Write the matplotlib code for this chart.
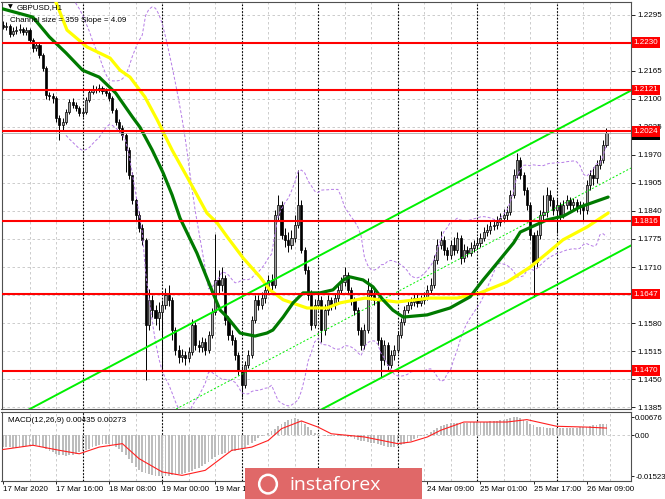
import numpy as np
import pandas as pd
import matplotlib
matplotlib.use("Agg")
import matplotlib.pyplot as plt
from matplotlib.patches import Rectangle, Ellipse
from matplotlib.transforms import blended_transform_factory

plt.rcParams["font.family"] = ["Liberation Sans", "DejaVu Sans"]
plt.rcParams["axes.unicode_minus"] = False

# GBPUSD H1, one value per bar: 17 Mar 2020 00:00 .. 26 Mar 2020 15:00
first_open = 1.2271
closes = [
    1.2266, 1.2268, 1.2250, 1.2257, 1.2259, 1.2261, 1.2254, 1.2259, 1.2236, 1.2217,
    1.2224, 1.2201, 1.2171, 1.2108, 1.2106, 1.2102, 1.2055, 1.2039, 1.2046, 1.2069,
    1.2092, 1.2085, 1.2078, 1.2067, 1.2069, 1.2097, 1.2115, 1.2122, 1.2120, 1.2125,
    1.2118, 1.2113, 1.2102, 1.2074, 1.2046, 1.2032, 1.2016, 1.1981, 1.1923, 1.1865,
    1.1830, 1.1800, 1.1773, 1.1576, 1.1634, 1.1610, 1.1592, 1.1606, 1.1622, 1.1645,
    1.1634, 1.1564, 1.1518, 1.1501, 1.1506, 1.1499, 1.1513, 1.1576, 1.1529, 1.1525,
    1.1536, 1.1518, 1.1552, 1.1606, 1.1680, 1.1668, 1.1684, 1.1587, 1.1552, 1.1541,
    1.1506, 1.1471, 1.1437, 1.1483, 1.1506, 1.1587, 1.1634, 1.1622, 1.1638, 1.1657,
    1.1680, 1.1668, 1.1830, 1.1854, 1.1784, 1.1773, 1.1761, 1.1777, 1.1807, 1.1854,
    1.1749, 1.1703, 1.1645, 1.1576, 1.1622, 1.1634, 1.1564, 1.1610, 1.1634, 1.1622,
    1.1638, 1.1657, 1.1675, 1.1691, 1.1657, 1.1634, 1.1610, 1.1564, 1.1529, 1.1564,
    1.1657, 1.1645, 1.1634, 1.1541, 1.1495, 1.1529, 1.1483, 1.1506, 1.1518, 1.1552,
    1.1583, 1.1610, 1.1622, 1.1629, 1.1638, 1.1627, 1.1634, 1.1641, 1.1657, 1.1668,
    1.1726, 1.1761, 1.1773, 1.1749, 1.1738, 1.1761, 1.1749, 1.1777, 1.1731, 1.1749,
    1.1742, 1.1754, 1.1761, 1.1766, 1.1777, 1.1791, 1.1796, 1.1805, 1.1807, 1.1814,
    1.1823, 1.1830, 1.1837, 1.1877, 1.1923, 1.1958, 1.1923, 1.1888, 1.1854, 1.1784,
    1.1722, 1.1784, 1.1830, 1.1837, 1.1877, 1.1865, 1.1842, 1.1854, 1.1830, 1.1854,
    1.1865, 1.1854, 1.1861, 1.1849, 1.1854, 1.1842, 1.1900, 1.1923, 1.1916, 1.1946,
    1.1958, 1.1993, 1.2020,
]
highs = [
    1.2280, 1.2277, 1.2272, 1.2266, 1.2268, 1.2273, 1.2266, 1.2266, 1.2263, 1.2240,
    1.2232, 1.2228, 1.2206, 1.2175, 1.2116, 1.2113, 1.2106, 1.2062, 1.2055, 1.2076,
    1.2099, 1.2101, 1.2092, 1.2083, 1.2078, 1.2104, 1.2122, 1.2132, 1.2129, 1.2134,
    1.2130, 1.2124, 1.2118, 1.2106, 1.2078, 1.2053, 1.2039, 1.2021, 1.1988, 1.1930,
    1.1872, 1.1840, 1.1810, 1.1777, 1.1659, 1.1645, 1.1622, 1.1629, 1.1634, 1.1661,
    1.1668, 1.1640, 1.1571, 1.1529, 1.1520, 1.1515, 1.1525, 1.1590, 1.1583, 1.1541,
    1.1548, 1.1545, 1.1562, 1.1615, 1.1787, 1.1703, 1.1710, 1.1691, 1.1597, 1.1564,
    1.1548, 1.1513, 1.1480, 1.1492, 1.1518, 1.1597, 1.1645, 1.1645, 1.1652, 1.1668,
    1.1691, 1.1694, 1.1842, 1.1877, 1.1863, 1.1800, 1.1791, 1.1796, 1.1830, 1.1935,
    1.1865, 1.1756, 1.1712, 1.1657, 1.1636, 1.1650, 1.1643, 1.1624, 1.1645, 1.1641,
    1.1650, 1.1668, 1.1687, 1.1710, 1.1698, 1.1664, 1.1641, 1.1617, 1.1571, 1.1578,
    1.1684, 1.1668, 1.1657, 1.1641, 1.1548, 1.1541, 1.1536, 1.1518, 1.1529, 1.1562,
    1.1592, 1.1620, 1.1634, 1.1641, 1.1650, 1.1648, 1.1645, 1.1652, 1.1668, 1.1684,
    1.1738, 1.1775, 1.1793, 1.1782, 1.1756, 1.1773, 1.1780, 1.1791, 1.1784, 1.1763,
    1.1759, 1.1768, 1.1773, 1.1780, 1.1789, 1.1803, 1.1810, 1.1817, 1.1821, 1.1828,
    1.1835, 1.1844, 1.1851, 1.1888, 1.1937, 1.1974, 1.1965, 1.1930, 1.1895, 1.1861,
    1.1791, 1.1796, 1.1842, 1.1877, 1.1895, 1.1888, 1.1872, 1.1868, 1.1861, 1.1865,
    1.1877, 1.1872, 1.1870, 1.1868, 1.1863, 1.1861, 1.1912, 1.1935, 1.1942, 1.1958,
    1.1970, 1.2004, 1.2032,
]
lows = [
    1.2261, 1.2259, 1.2243, 1.2245, 1.2250, 1.2252, 1.2247, 1.2248, 1.2229, 1.2208,
    1.2210, 1.2194, 1.2164, 1.2099, 1.2097, 1.2090, 1.2046, 1.2004, 1.2027, 1.2041,
    1.2064, 1.2078, 1.2071, 1.2060, 1.2058, 1.2064, 1.2092, 1.2111, 1.2113, 1.2115,
    1.2111, 1.2106, 1.2095, 1.2067, 1.2039, 1.2023, 1.2004, 1.1930, 1.1914, 1.1855,
    1.1819, 1.1791, 1.1761, 1.1448, 1.1564, 1.1594, 1.1576, 1.1564, 1.1471, 1.1613,
    1.1620, 1.1541, 1.1506, 1.1487, 1.1490, 1.1483, 1.1490, 1.1506, 1.1518, 1.1513,
    1.1513, 1.1506, 1.1511, 1.1545, 1.1599, 1.1650, 1.1655, 1.1576, 1.1541, 1.1529,
    1.1495, 1.1460, 1.1409, 1.1430, 1.1476, 1.1499, 1.1580, 1.1610, 1.1613, 1.1627,
    1.1648, 1.1657, 1.1661, 1.1819, 1.1775, 1.1757, 1.1745, 1.1752, 1.1768, 1.1800,
    1.1742, 1.1694, 1.1634, 1.1564, 1.1569, 1.1610, 1.1536, 1.1552, 1.1599, 1.1610,
    1.1613, 1.1629, 1.1648, 1.1666, 1.1648, 1.1622, 1.1599, 1.1552, 1.1518, 1.1520,
    1.1557, 1.1634, 1.1622, 1.1529, 1.1455, 1.1483, 1.1471, 1.1476, 1.1495, 1.1511,
    1.1545, 1.1576, 1.1603, 1.1613, 1.1620, 1.1617, 1.1620, 1.1624, 1.1634, 1.1648,
    1.1661, 1.1717, 1.1752, 1.1738, 1.1726, 1.1729, 1.1738, 1.1742, 1.1717, 1.1722,
    1.1733, 1.1735, 1.1745, 1.1752, 1.1757, 1.1770, 1.1782, 1.1787, 1.1796, 1.1798,
    1.1805, 1.1814, 1.1819, 1.1830, 1.1870, 1.1916, 1.1914, 1.1877, 1.1842, 1.1773,
    1.1640, 1.1710, 1.1775, 1.1819, 1.1826, 1.1851, 1.1830, 1.1788, 1.1819, 1.1823,
    1.1844, 1.1842, 1.1842, 1.1837, 1.1833, 1.1819, 1.1833, 1.1888, 1.1900, 1.1905,
    1.1937, 1.1951, 1.1988,
]

# moving averages (bar position, price)
green_bars = [-1, 9, 14, 19, 24, 29, 34, 39, 41.3, 45, 48.3, 51, 53.4, 58.5, 63.3, 65.5,
              67.6, 71.5, 76, 79.6, 81.4, 84.5, 87.5, 90.5, 95.6, 99.5, 102.6, 104.7, 108.6,
              111.6, 114.6, 117.6, 120.7, 127.9, 134.8, 140.9, 144.8, 149, 154, 156, 164,
              169, 174, 182.5]
green_ma = [1.2310, 1.2289, 1.2243, 1.2206, 1.2166, 1.2150, 1.2113, 1.2058, 1.2034, 1.1981,
            1.1928, 1.1877, 1.1823, 1.1742, 1.1650, 1.1610, 1.1594, 1.1557, 1.1550, 1.1557,
            1.1564, 1.1594, 1.1627, 1.1650, 1.1650, 1.1657, 1.1680, 1.1687, 1.1680, 1.1664,
            1.1634, 1.1610, 1.1594, 1.1599, 1.1615, 1.1641, 1.1680, 1.1719, 1.1766, 1.1791,
            1.1819, 1.1828, 1.1849, 1.1872]
yellow_bars = [14.2, 15.7, 19.3, 25.3, 32.3, 35.3, 38.3, 42.8, 46.5, 51, 55.5, 61.5, 64.6,
               67.6, 72.4, 77.5, 80.5, 84.5, 91.7, 97.7, 101.7, 109.2, 118.9, 128.8, 137,
               143.9, 152, 159, 164.1, 168.9, 176.2, 182.5]
yellow_ma = [1.2375, 1.2329, 1.2259, 1.2220, 1.2194, 1.2166, 1.2150, 1.2104, 1.2051, 1.1981,
             1.1919, 1.1835, 1.1812, 1.1780, 1.1731, 1.1687, 1.1657, 1.1634, 1.1615, 1.1615,
             1.1627, 1.1638, 1.1629, 1.1638, 1.1638, 1.1650, 1.1675, 1.1710, 1.1742, 1.1773,
             1.1803, 1.1835]

# support / resistance levels and equidistant channel
levels = [1.2230, 1.2121, 1.2024, 1.1816, 1.1647, 1.1470]
channel_bar = 29
channel_price = 1.1466
channel_slope = 0.000407
channel_size = 0.0359

# MACD(12,26,9): main per bar (x 1e-4) and signal line
macd_main = [
    -42, -43, -45, -46, -46, -45, -43, -41, -40,
    -39, -38, -40, -44,
    -50, -57, -63, -68, -72, -75, -76, -75,
    -72, -68, -64, -60, -55, -50,
    -45, -40, -36, -33, -31, -33, -37,
    -43, -52, -62, -75,
    -90, -105, -118, -128, -136, -142, -146, -149, -151, -152, -152, -152, -151,
    -150, -148, -146, -143, -140, -136, -132, -127, -121, -114, -106, -98, -90,
    -82, -75, -70, -66, -63, -60, -58,
    -56, -52, -46, -38, -29, -20, -11,
    -4, 3, 9, 15, 25, 34, 42,
    50, 56, 62, 64, 60, 53,
    43, 32, 20, 10, 4, 0,
    -2, -3, -3, -2, -1, -2, -4, -6, -8,
    -12, -16, -20, -23, -25, -27, -29,
    -32, -36, -40, -43, -45, -43, -40, -36,
    -31, -26, -20, -14, -9, -4, 0,
    5, 12, 20, 28, 35, 40,
    43, 45, 46, 47, 47, 48, 48, 49, 49,
    50, 50, 51, 51, 52, 53, 54, 56, 58,
    61, 64, 67, 67, 64, 58,
    52, 44, 37, 33, 31, 30, 29, 29,
    29, 28, 28, 28, 28, 28, 29, 29, 30, 31,
    33, 35, 37, 39, 41, 42, 43.5,
]
signal_bars = [0, 9, 17, 23, 29, 36, 41, 48, 54, 61, 69, 75, 80, 84, 90, 95, 99,
               109, 119, 123, 128, 132, 139, 152, 158, 167, 176, 182]
signal_vals = [-0.0053, -0.0037, -0.0056, -0.0069, -0.0044, -0.0031, -0.0087, -0.0137,
               -0.0150, -0.0131, -0.0056, -0.0044, -0.0019, 0.0025, 0.0054, 0.0031, 0.0006,
               -0.0006, -0.0031, -0.0025, -0.0006, 0.0019, 0.0050, 0.0050, 0.0059, 0.0034,
               0.0031, 0.00273]

# axis labels (1.2230 and 1.1645 sit under the level boxes)
price_ticks = [1.1385, 1.1450, 1.1515, 1.1580, 1.1645, 1.1710, 1.1775, 1.1840, 1.1905,
               1.1970, 1.2035, 1.2100, 1.2165, 1.2230, 1.2295]
hidden_ticks = [1.1645, 1.2230]
time_bars = [0, 16, 32, 48, 64, 128, 144, 160, 176]
time_labels = ["17 Mar 2020", "17 Mar 16:00", "18 Mar 08:00", "19 Mar 00:00", "19 Mar 16:00",
               "24 Mar 09:00", "25 Mar 01:00", "25 Mar 17:00", "26 Mar 09:00"]
day_bars = [24, 48, 72, 95, 119, 143, 167]

n = len(closes)
bars = np.arange(n)
opens = [first_open] + closes[:-1]
xlim = (-0.45, 189.4)

fig = plt.figure(figsize=(6.65, 4.99), dpi=100)
ax = fig.add_axes([1.5 / 665, 1 - 409 / 499, 629.5 / 665, 407 / 499])
ax2 = fig.add_axes([1.5 / 665, 1 - 481 / 499, 629.5 / 665, 69 / 499])

# grid: gray dashed every 8 bars, black dotted day separators
grid_bars = list(range(8, 89, 8)) + list(range(103, 190, 8))
for a in (ax, ax2):
    for g in grid_bars:
        a.axvline(g, color="#c4c4c4", lw=0.6, ls=(0, (3, 3)), zorder=0)
    for d in day_bars:
        a.axvline(d, color="black", lw=0.8, ls=(0, (1.5, 1.5)), zorder=1)
for v in price_ticks:
    ax.axhline(v, color="#c4c4c4", lw=0.6, ls=(0, (3, 3)), zorder=0)

# candles
for i in range(n):
    o, c = opens[i], closes[i]
    ax.vlines(i, lows[i], highs[i], color="black", lw=0.7, zorder=2)
    fc = "#a0a0a0" if c >= o else "black"
    ax.add_patch(Rectangle((i - 0.32, min(o, c)), 0.64, max(abs(c - o), 0.00004),
                           facecolor=fc, edgecolor="black", lw=0.5, zorder=2))

# bollinger bands (20, 2) on the closes
s = pd.Series(closes)
mid = s.rolling(20).mean()
sd = s.rolling(20).std(ddof=0)
ax.plot(bars, mid + 2 * sd, color="#b57be6", lw=0.7, ls=(0, (3, 2)), zorder=3)
ax.plot(bars, mid - 2 * sd, color="#b57be6", lw=0.7, ls=(0, (3, 2)), zorder=3)

# moving averages
ax.plot(yellow_bars, yellow_ma, color="#ffff00", lw=2.3, zorder=3,
        solid_capstyle="round", solid_joinstyle="round")
ax.plot(green_bars, green_ma, color="#007a00", lw=2.3, zorder=3,
        solid_capstyle="round", solid_joinstyle="round")

# channel
cx = np.array(xlim)
upper = channel_price + channel_slope * (cx - channel_bar)
ax.plot(cx, upper, color="#00f000", lw=1.4, zorder=3)
ax.plot(cx, upper - channel_size, color="#00f000", lw=1.4, zorder=3)
ax.plot(cx, upper - channel_size / 2, color="#00f000", lw=0.7, ls=(0, (2, 2)), zorder=3)

# levels
for lv in levels:
    ax.axhline(lv, color="#ff0000", lw=1.5, zorder=4)
ax.axhline(closes[-1], color="#a8a8a8", lw=0.6, zorder=4)

ax.set_xlim(*xlim)
ax.set_ylim(1.1381, 1.2324)
ax.set_xticks([])
ax.yaxis.tick_right()
ax.set_yticks(price_ticks)
ax.set_yticklabels(["" if v in hidden_ticks else f"{v:.4f}" for v in price_ticks])
ax.tick_params(axis="y", labelsize=5.8, length=3, pad=1.5, width=0.6, colors="black")

trans = blended_transform_factory(ax.transAxes, ax.transData)
ax.text(1.004, closes[-1] - 0.0003, f"{closes[-1]:.4f}", transform=trans, fontsize=5.8,
        color="white", va="center", ha="left", clip_on=False, zorder=6,
        bbox=dict(boxstyle="square,pad=0.2", fc="black", ec="none"))
for lv in levels:
    ax.text(1.004, lv, f"{lv:.4f}", transform=trans, fontsize=5.8, color="white",
            va="center", ha="left", clip_on=False, zorder=7,
            bbox=dict(boxstyle="square,pad=0.2", fc="#ff0000", ec="none"))

ax.text(6 / 629.5, 1 - 5 / 407, "\u25bc", transform=ax.transAxes, fontsize=4.5,
        va="center", ha="left", family=["DejaVu Sans"])
ax.text(15 / 629.5, 1 - 6 / 407, "GBPUSD,H1", transform=ax.transAxes, fontsize=5.8,
        va="center", ha="left")
ax.text(8 / 629.5, 1 - 19 / 407, "Channel size = 359 Slope = 4.09", transform=ax.transAxes,
        fontsize=5.8, va="center", ha="left")

# MACD panel
ax2.bar(bars, np.array(macd_main) * 1e-4, width=0.55, color="#bdbdbd", zorder=2)
ax2.plot(signal_bars, signal_vals, color="#ff2020", lw=0.8, zorder=3)
ax2.axhline(0, color="#c4c4c4", lw=0.6, ls=(0, (3, 3)), zorder=0)
ax2.set_xlim(*xlim)
ax2.set_ylim(-0.0171, 0.00875)
ax2.yaxis.tick_right()
ax2.set_yticks([-0.01523, 0.0, 0.00676])
ax2.set_yticklabels(["-0.01523", "0.00", "0.00676"])
ax2.tick_params(axis="y", labelsize=5.6, length=2, pad=1, width=0.6)
ax2.set_xticks(time_bars)
ax2.set_xticklabels(time_labels)
for lbl in ax2.get_xticklabels():
    lbl.set_horizontalalignment("left")
ax2.tick_params(axis="x", labelsize=5.8, length=2.5, pad=1, width=0.6)
ax2.text(6 / 629.5, 1 - 8 / 69, "MACD(12,26,9) 0.00435 0.00273", transform=ax2.transAxes,
         fontsize=5.8, va="center", ha="left")

for a in (ax, ax2):
    for sp in a.spines.values():
        sp.set_color("#505050")
        sp.set_linewidth(0.8)

# watermark logo
lax = fig.add_axes([245 / 665, 0, 177 / 665, 31 / 499])
lax.set_xlim(0, 1)
lax.set_ylim(0, 1)
lax.axis("off")
lax.add_patch(Rectangle((0, 0), 1, 1, facecolor="#e06868", edgecolor="none"))
lax.add_patch(Ellipse((0.13, 0.48), 0.1, 0.6, fill=False, edgecolor="white", lw=1.8))
lax.text(0.25, 0.45, "instaforex", color="white", fontsize=14, va="center", ha="left",
         family=["Open Sans", "DejaVu Sans"])

fig.savefig("out.png", dpi=100, facecolor="white")
